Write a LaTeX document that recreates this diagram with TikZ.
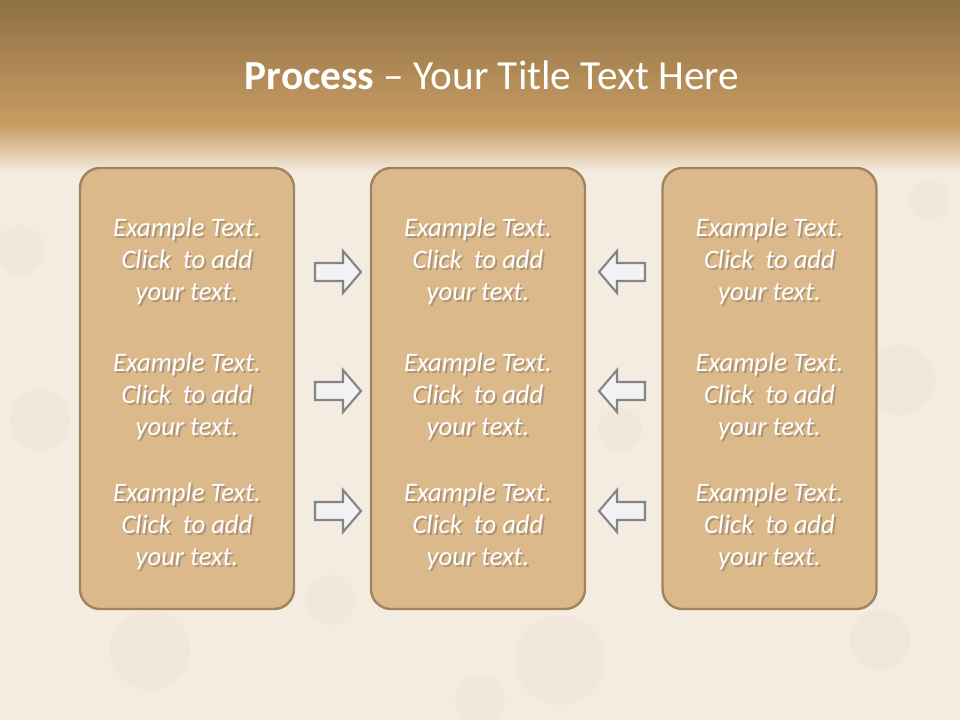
\documentclass[tikz,border=0pt]{standalone}
\usepackage{fontspec}
\setmainfont{Carlito}
\definecolor{bandtop}{HTML}{8E7044}
\definecolor{bandbot}{HTML}{C99D63}
\definecolor{cream}{HTML}{F4ECE1}
\definecolor{cream2}{HTML}{EDE0CE}
\definecolor{boxfill}{HTML}{DBB98B}
\definecolor{boxline}{HTML}{A0845E}
\definecolor{arrfill}{HTML}{F2F2F5}
\definecolor{arrline}{HTML}{858585}
\tikzset{
  stagebox/.style={draw=boxline, line width=1.8pt, fill=boxfill, rounded corners=15pt,
    minimum width=160.5pt, minimum height=330.75pt, inner sep=0pt},
  bodytext/.style={font=\itshape\fontsize{20}{24}\selectfont, text=white, align=center, inner sep=0pt},
  bodyshadow/.style={font=\itshape\fontsize{20}{24}\selectfont, text=black!75, opacity=0.3, align=center, inner sep=0pt},
  blockarrow/.style={draw=arrline, line width=1.6pt, fill=arrfill, line join=miter},
}
\newcommand{\ExText}{Example Text.\\Click\ \ to add\\your text.}
\begin{document}
\begin{tikzpicture}[x=0.75pt,y=-0.75pt]
\useasboundingbox (0,0) rectangle (960,720);
% background
\fill[cream] (0,0) rectangle (960,720);
\shade[top color=bandtop, bottom color=bandbot] (0,0) rectangle (960,126);
\shade[top color=bandbot, bottom color=cream] (0,125.5) rectangle (960,172);
% faint texture blotches
\foreach \x/\y/\r in {40/420/30, 150/650/40, 330/600/25, 560/660/45, 620/430/22, 900/380/35, 880/640/30, 20/250/25, 930/200/20, 480/700/25}
  \fill[cream2, opacity=0.3] (\x,\y) circle[radius=\r];
% title
\node (title) at (492,75) {\fontsize{31}{37}\selectfont\color{white}\textbf{Process} -- Your Title Text Here};
% boxes
\node[stagebox] (boxL) at (187,388.5) {};
\node[stagebox] (boxM) at (478,388.5) {};
\node[stagebox] (boxR) at (769.5,388.5) {};
% texts with soft drop shadow
\foreach \bx/\nm in {187/L, 478/M, 769.5/R}{
  \foreach \by/\k in {261/1, 396/2, 526/3}{
    \node[bodyshadow] (s\nm\k) at (\bx+2,\by+2.5) {\ExText};
    \node[bodytext] (t\nm\k) at (\bx,\by) {\ExText};
  }
}
% right-pointing arrows
\foreach \cy in {272, 391, 511}{
  \draw[blockarrow] (315,\cy-9) -- (343,\cy-9) -- (343,\cy-21) -- (361,\cy) -- (343,\cy+21) -- (343,\cy+9) -- (315,\cy+9) -- cycle;
}
% left-pointing arrows
\foreach \cy in {272, 391, 511}{
  \draw[blockarrow] (645,\cy-9) -- (617,\cy-9) -- (617,\cy-21) -- (599,\cy) -- (617,\cy+21) -- (617,\cy+9) -- (645,\cy+9) -- cycle;
}
\end{tikzpicture}
\end{document}
